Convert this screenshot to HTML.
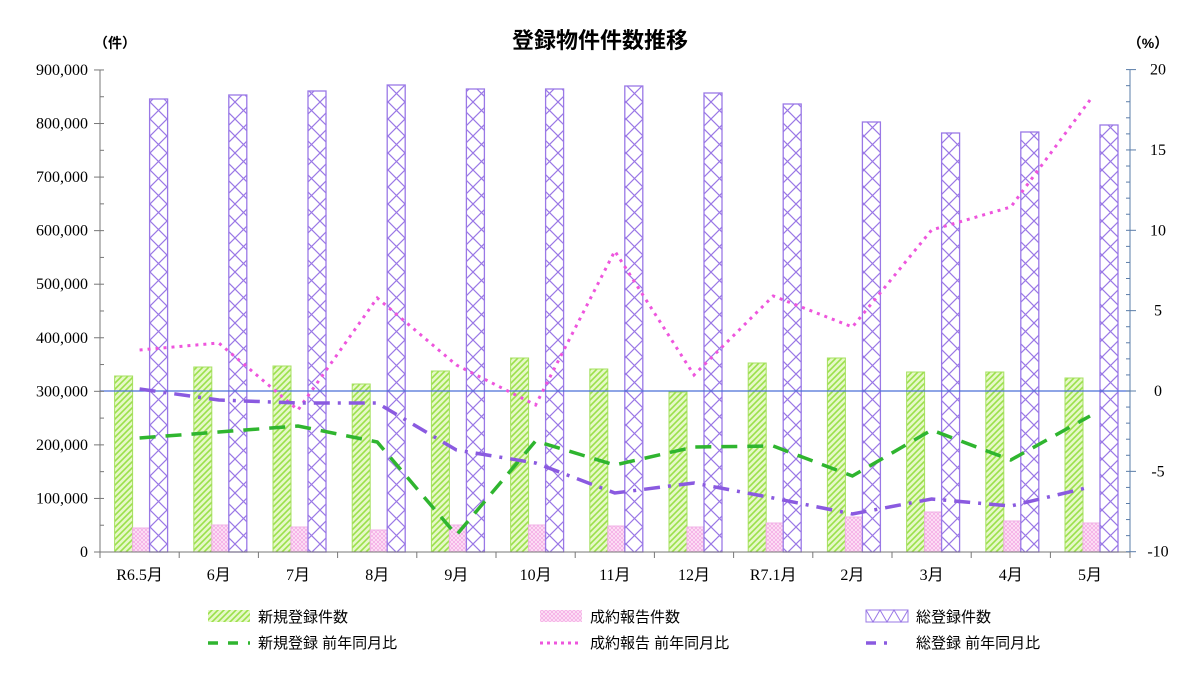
<!DOCTYPE html>
<html><head><meta charset="utf-8"><style>body{margin:0;background:#fff}svg text{font-family:"Liberation Sans","Noto Sans CJK JP",sans-serif}svg #ax text{font-family:"Liberation Serif","Noto Sans CJK JP",serif}</style></head><body>
<svg width="1200" height="679" xmlns="http://www.w3.org/2000/svg">
<defs>
<pattern id="pg" width="6" height="6" patternUnits="userSpaceOnUse"><rect width="6" height="6" fill="#e6f8c8"/><path d="M-1,1 l2,-2 M0,6 l6,-6 M5,7 l2,-2" stroke="#9be04a" stroke-width="1.6"/></pattern>
<pattern id="pp" width="4" height="4" patternUnits="userSpaceOnUse"><rect width="4" height="4" fill="#fde4f6"/><path d="M0,0 l4,4 M4,0 l-4,4" stroke="#f3a6e3" stroke-width="0.7"/></pattern>
<pattern id="pv" width="17" height="17" patternUnits="userSpaceOnUse" x="150"><rect width="17" height="17" fill="#fff"/><path d="M0,0 L17,17 M17,0 L0,17" stroke="#9a78e6" stroke-width="1.2"/></pattern>
</defs>
<text x="600" y="48" font-size="22" text-anchor="middle" font-weight="bold">登録物件件数推移</text>
<text x="115" y="48" font-size="14" text-anchor="middle" font-weight="bold">（件）</text>
<text x="1148" y="48" font-size="14" text-anchor="middle" font-weight="bold">（%）</text>
<g id="bars"></g>
<line x1="100" y1="391" x2="1130" y2="391" stroke="#4a6fd8" stroke-width="1.2"/>
<line x1="100" y1="70" x2="100" y2="552" stroke="#777"/>
<line x1="100" y1="552" x2="1130" y2="552" stroke="#777"/>
<line x1="1130" y1="70" x2="1130" y2="552" stroke="#5a7ca8"/>
<g id="ax" font-size="16"></g>
<polyline id="lg" fill="none" stroke="#2fb52f" stroke-width="3.5" stroke-dasharray="16,10"/>
<polyline id="lp" fill="none" stroke="#ee55dd" stroke-width="3" stroke-dasharray="3,5"/>
<polyline id="lv" fill="none" stroke="#8a5ae0" stroke-width="3.5" stroke-dasharray="16,8,3,8"/>
<g font-size="15">
<rect x="208" y="610" width="42" height="12" fill="url(#pg)"/><text x="258" y="622">新規登録件数</text>
<rect x="540" y="610" width="42" height="12" fill="url(#pp)"/><text x="590" y="622">成約報告件数</text>
<rect x="866" y="610" width="42" height="12" fill="#fff" stroke="#9a78e6"/><path d="M866,610 l7,12 l7,-12 l7,12 l7,-12 l7,12 l7,-12" stroke="#9a78e6" fill="none"/><text x="916" y="622">総登録件数</text>
<line x1="208" y1="643" x2="250" y2="643" stroke="#2fb52f" stroke-width="3.5" stroke-dasharray="10,10"/><text x="258" y="648">新規登録 前年同月比</text>
<line x1="540" y1="643" x2="582" y2="643" stroke="#ee55dd" stroke-width="3" stroke-dasharray="3,4"/><text x="590" y="648">成約報告 前年同月比</text>
<line x1="866" y1="643" x2="908" y2="643" stroke="#8a5ae0" stroke-width="3.5" stroke-dasharray="10,8,3,30"/><text x="916" y="648">総登録 前年同月比</text>
</g>
<script>
var ns="http://www.w3.org/2000/svg";
function el(t,a,p){var e=document.createElementNS(ns,t);for(var k in a)e.setAttribute(k,a[k]);p.appendChild(e);return e}
var cats=["R6.5月","6月","7月","8月","9月","10月","11月","12月","R7.1月","2月","3月","4月","5月"];
var G=[376,367,366,384,371,358,369,392,363,358,372,372,378],P=[528,525,527,530,525,525,526,527,523,517,512,521,523],V=[99,95,91,85,89,89,86,93,104,122,133,132,125];
var lp=[350,343,410,298,365,405,251,375,296,327,230,207,100],lg=[438,432,426,442,535,441,465,447,446,476,430,460,416],lv=[389,400,403,403,450,463,493,483,498,514,499,506,487];
var b=document.getElementById('bars'),ax=document.getElementById('ax'),w=79.2;
var pg=[],pp=[],pv=[];
for(var i=0;i<13;i++){var c=100+w*(i+0.5);var x=c-25;
el('rect',{x:x,y:G[i],width:18,height:552-G[i],fill:'url(#pg)',stroke:'#a6e060','stroke-width':1},b);
el('rect',{x:x+18,y:P[i],width:17,height:552-P[i],fill:'url(#pp)',stroke:'#f0b0e6','stroke-width':1},b);
el('rect',{x:x+35,y:V[i],width:18,height:552-V[i],fill:'url(#pv)',stroke:'#9a78e6','stroke-width':1.3},b);
var t=el('text',{x:c,y:580,'text-anchor':'middle'},ax);t.textContent=cats[i];
el('line',{x1:100+w*i,y1:552,x2:100+w*i,y2:558,stroke:'#777'},ax);
pg.push(c+','+lg[i]);pp.push(c+','+lp[i]);pv.push(c+','+lv[i]);}
el('line',{x1:1130,y1:552,x2:1130,y2:558,stroke:'#777'},ax);
for(var k=0;k<=9;k++){var y=552-k*53.56;var t=el('text',{x:88,y:y+5,'text-anchor':'end'},ax);t.textContent=(k?k*100+',000':'0');el('line',{x1:94,y1:y,x2:104,y2:y,stroke:'#777'},ax);if(k<9)el('line',{x1:100,y1:y-26.78,x2:104,y2:y-26.78,stroke:'#777'},ax);}
for(var v=-10;v<=20;v++){var y=391-v*16.07;if(v%5==0){el('line',{x1:1126,y1:y,x2:1136,y2:y,stroke:'#5a7ca8'},ax);var t=el('text',{x:1158,y:y+5,'text-anchor':'middle'},ax);t.textContent=v;}else el('line',{x1:1126,y1:y,x2:1130,y2:y,stroke:'#5a7ca8'},ax);}
document.getElementById('lg').setAttribute('points',pg.join(' '));
document.getElementById('lp').setAttribute('points',pp.join(' '));
document.getElementById('lv').setAttribute('points',pv.join(' '));
</script>
</svg></body></html>
